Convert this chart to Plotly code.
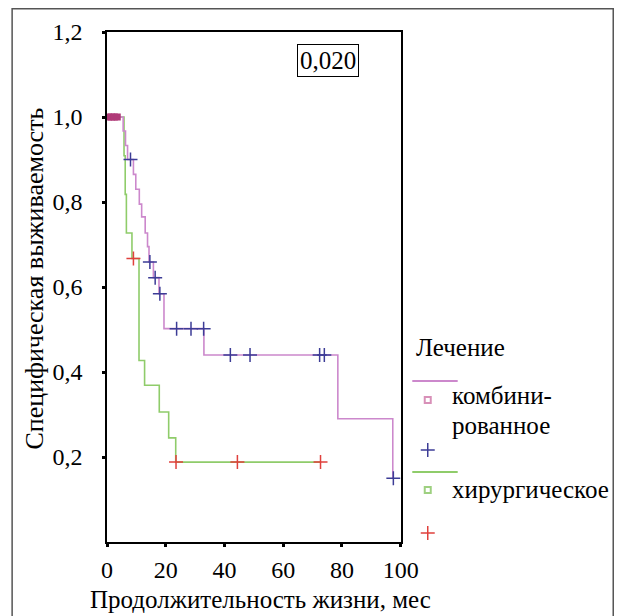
import plotly.graph_objects as go

# ---- data ----
comb_t = [0, 5.5, 6.3, 7, 9, 9.8, 11, 11.8, 13, 13.8, 14.3, 15.8, 17.7, 19.4, 33, 78.6, 97.3, 97.5]
comb_s = [1.0, 0.967, 0.933, 0.9, 0.865, 0.83, 0.795, 0.765, 0.727, 0.695, 0.659, 0.622, 0.584, 0.502, 0.44, 0.29, 0.15, 0.15]
comb_cens_t = [8, 14.6, 16.4, 18, 23.7, 28.6, 32.9, 42, 48.7, 72.4, 74, 97.5]
comb_cens_s = [0.9, 0.659, 0.622, 0.584, 0.502, 0.502, 0.502, 0.44, 0.44, 0.44, 0.44, 0.15]
start_sq_t = [0.5, 1.5, 2.5, 3.5]
start_sq_s = [1.0, 1.0, 1.0, 1.0]

surg_t = [0, 5.8, 6.2, 6.6, 8.5, 10.9, 12.8, 17.8, 21, 23.4, 72.7]
surg_s = [1.0, 0.909, 0.818, 0.727, 0.667, 0.427, 0.369, 0.306, 0.245, 0.188, 0.188]
surg_cens_t = [9, 23.5, 44.4, 72.7]
surg_cens_s = [0.667, 0.188, 0.188, 0.188]

x_ticks = [0, 20, 40, 60, 80, 100]
x_ticktext = ["0", "20", "40", "60", "80", "100"]
y_ticks = [0.2, 0.4, 0.6, 0.8, 1.0, 1.2]
y_ticktext = ["0,2", "0,4", "0,6", "0,8", "1,0", "1,2"]

legend_title = "Лечение"
group1_lines = ["комбини-", "рованное"]
group2_name = "хирургическое"
p_value_text = "0,020"
x_title = "Продолжительность жизни, мес"
y_title = "Специфическая выживаемость"

# ---- styles ----
PINK = "#cc88cc"
GREEN = "#8fcc6a"
BLUE = "#3c3c96"
RED = "#e0403c"
SQ_PINK = "#b03a78"
LEG_SQ_PINK = "#d890b8"
LEG_SQ_GREEN = "#9ed080"
FAMILY = "Times New Roman, Liberation Serif, serif"

# page body has an 8px default margin: figure is sized/positioned to compensate
OFF = 8
W, H = 638 - OFF, 616 - OFF
PLOT_L, PLOT_R, PLOT_T, PLOT_B = 107, 411, 32, 542   # screen pixels of the plot frame
ML = PLOT_L - OFF
MT = PLOT_T - OFF
MB = H - (PLOT_B - OFF)
MR = 0
PW = W - ML - MR
PH = H - MT - MB
xdom = (PLOT_R - PLOT_L) / PW


def sx(X):
    return (X - OFF - ML) / PW


def sy(Y):
    return (H - MB - (Y - OFF)) / PH


LEG_X0 = 415
fig = go.Figure()

fig.add_trace(go.Scatter(x=surg_t, y=surg_s, mode="lines", line=dict(color=GREEN, width=1.6, shape="hv"), showlegend=False))
fig.add_trace(go.Scatter(x=comb_t, y=comb_s, mode="lines", line=dict(color=PINK, width=1.6, shape="hv"), showlegend=False))
fig.add_trace(go.Scatter(x=start_sq_t, y=start_sq_s, mode="markers",
                         marker=dict(symbol="square", size=7, color=SQ_PINK), showlegend=False))
fig.add_trace(go.Scatter(x=comb_cens_t, y=comb_cens_s, mode="markers",
                         marker=dict(symbol="cross-thin", size=10, color=BLUE, line=dict(color=BLUE, width=1.5)),
                         showlegend=False))
fig.add_trace(go.Scatter(x=surg_cens_t, y=surg_cens_s, mode="markers",
                         marker=dict(symbol="cross-thin", size=10, color=RED, line=dict(color=RED, width=1.5)),
                         showlegend=False))

# legend symbols, placed in an auxiliary subplot whose axes run in screen pixels
LEG = dict(xaxis="x2", yaxis="y2", showlegend=False, hoverinfo="skip")
fig.add_trace(go.Scatter(x=[423, 470], y=[381, 381], mode="lines", line=dict(color=PINK, width=2), **LEG))
fig.add_trace(go.Scatter(x=[423, 470], y=[472, 472], mode="lines", line=dict(color=GREEN, width=2), **LEG))
fig.add_trace(go.Scatter(x=[439], y=[400], mode="markers",
                         marker=dict(symbol="square-open", size=6, color=LEG_SQ_PINK,
                                     line=dict(color=LEG_SQ_PINK, width=2)), **LEG))
fig.add_trace(go.Scatter(x=[439], y=[490], mode="markers",
                         marker=dict(symbol="square-open", size=6, color=LEG_SQ_GREEN,
                                     line=dict(color=LEG_SQ_GREEN, width=2)), **LEG))
fig.add_trace(go.Scatter(x=[439], y=[450], mode="markers",
                         marker=dict(symbol="cross-thin", size=10, color=BLUE, line=dict(color=BLUE, width=1.5)), **LEG))
fig.add_trace(go.Scatter(x=[439], y=[533], mode="markers",
                         marker=dict(symbol="cross-thin", size=10, color=RED, line=dict(color=RED, width=1.5)), **LEG))

f_ticks = dict(family=FAMILY, size=24, color="black")
f_leg = dict(family=FAMILY, size=25, color="black")
f_box = dict(family=FAMILY, size=25, color="black")
f_xt = dict(family=FAMILY, size=25, color="black")
f_yt = dict(family=FAMILY, size=26, color="black")

annotations = [
    dict(x=sx(425), y=sy(347), xref="paper", yref="paper", text=legend_title, showarrow=False,
         xanchor="left", yanchor="middle", font=f_leg),
    dict(x=sx(462), y=sy(395), xref="paper", yref="paper", text=group1_lines[0], showarrow=False,
         xanchor="left", yanchor="middle", font=f_leg),
    dict(x=sx(462), y=sy(425), xref="paper", yref="paper", text=group1_lines[1], showarrow=False,
         xanchor="left", yanchor="middle", font=f_leg),
    dict(x=sx(462), y=sy(489), xref="paper", yref="paper", text=group2_name, showarrow=False,
         xanchor="left", yanchor="middle", font=f_leg),
    dict(x=sx(336), y=sy(60), xref="paper", yref="paper", text=p_value_text, showarrow=False,
         xanchor="center", yanchor="middle", bordercolor="black", borderwidth=1, borderpad=2, font=f_box),
    dict(x=sx(266), y=sy(599), xref="paper", yref="paper", text=x_title, showarrow=False,
         xanchor="center", yanchor="middle", font=f_xt),
    dict(x=sx(31), y=sy(279), xref="paper", yref="paper", text=y_title, showarrow=False, textangle=-90,
         xanchor="center", yanchor="middle", font=f_yt),
]

fig.update_layout(
    width=W, height=H,
    margin=dict(l=ML, r=MR, t=MT, b=MB, pad=0),
    paper_bgcolor="white", plot_bgcolor="rgba(0,0,0,0)",
    font=f_ticks,
    xaxis=dict(domain=[0, xdom], range=[0, 100], tickvals=x_ticks, ticktext=x_ticktext,
               showline=True, mirror=True, linecolor="black", linewidth=1.5,
               ticks="outside", ticklen=3, tickwidth=3, tickcolor="black", tickfont=f_ticks,
               showgrid=False, zeroline=False, ticklabelstandoff=2, anchor="y"),
    yaxis=dict(domain=[0, 1], range=[0, 1.2], tickvals=y_ticks, ticktext=y_ticktext,
               showline=True, mirror=True, linecolor="black", linewidth=1.5,
               ticks="outside", ticklen=3, tickwidth=3, tickcolor="black", tickfont=f_ticks,
               showgrid=False, zeroline=False, ticklabelstandoff=15, anchor="x"),
    xaxis2=dict(domain=[sx(LEG_X0), 1], range=[LEG_X0, 638], visible=False, anchor="y2", fixedrange=True),
    yaxis2=dict(domain=[0, 1], range=[PLOT_B, PLOT_T], visible=False, anchor="x2", fixedrange=True),
    annotations=annotations,
    shapes=[dict(type="rect", xref="paper", yref="paper", x0=sx(8.8), x1=sx(631), y0=sy(625), y1=sy(8.8),
                 line=dict(color="#555555", width=1.5), fillcolor="rgba(0,0,0,0)", layer="below")],
    showlegend=False,
)

fig.write_html("out.html")
